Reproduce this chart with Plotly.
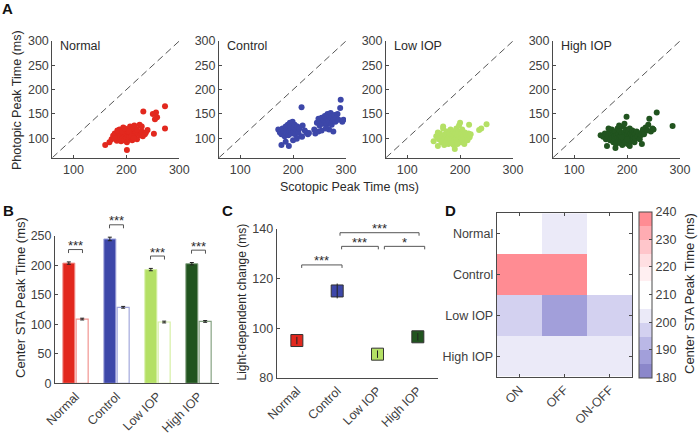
import plotly.graph_objects as go

W, H = 698, 434

# ---------------- data ----------------
groups = ["Normal", "Control", "Low IOP", "High IOP"]
group_colors = ["#e2281e", "#3d47a9", "#b4e065", "#21541f"]
open_edge = ["#f29490", "#a3a8dc", "#d6efa6", "#86a383"]

normal_scot = [160, 168, 172, 175, 178, 180, 182, 184, 185, 186, 187, 188, 189, 190, 191, 192, 193, 194, 195, 196,
               197, 198, 199, 200, 201, 202, 203, 204, 205, 206, 207, 208, 209, 210, 211, 212, 213, 215, 216, 218,
               220, 222, 225, 227, 229, 231, 233, 235, 237, 229, 201, 232, 250, 256, 273, 258, 254, 273, 252, 240,
               183, 192, 197, 205, 210, 178, 214, 220]
normal_phot = [86, 92, 98, 105, 110, 100, 95, 112, 104, 98, 118, 108, 102, 94, 112, 106, 100, 122, 110, 96,
               104, 115, 108, 100, 92, 118, 106, 112, 98, 104, 124, 110, 102, 116, 96, 108, 120, 126, 104, 112,
               98, 110, 128, 106, 114, 104, 110, 108, 112, 124, 76, 155, 150, 153, 166, 143, 139, 120, 109, 117,
               116, 114, 120, 114, 104, 100, 100, 118]

control_scot = [172, 175, 178, 180, 182, 184, 186, 188, 189, 190, 191, 192, 193, 194, 195, 196, 197, 198, 199, 200,
                201, 202, 203, 204, 206, 208, 210, 212, 215, 218, 222, 225, 228, 216, 178, 186, 192, 200, 207, 217,
                230, 242, 248, 254, 240, 245, 248, 250, 252, 254, 256, 258, 260, 262, 263, 264, 265, 266, 268, 269,
                270, 271, 272, 273, 274, 275, 276, 277, 278, 280, 282, 284, 286, 289, 290, 293, 295, 268, 262]
control_phot = [118, 112, 108, 120, 115, 104, 124, 118, 110, 128, 106, 120, 114, 132, 124, 118, 110, 126, 134, 120,
                114, 122, 128, 108, 118, 124, 112, 120, 104, 126, 116, 112, 108, 164, 86, 93, 84, 96, 99, 103,
                111, 110, 114, 116, 118, 132, 140, 126, 136, 142, 130, 138, 146, 134, 128, 140, 150, 136, 144, 132,
                138, 152, 142, 128, 146, 136, 114, 140, 148, 134, 142, 150, 138, 162, 179, 134, 138, 118, 120]

lowiop_scot = [150, 155, 158, 160, 162, 165, 166, 168, 170, 171, 172, 174, 175, 176, 178, 179, 180, 181, 182, 183,
               184, 185, 186, 187, 188, 189, 190, 190, 191, 192, 193, 194, 195, 196, 197, 198, 199, 200, 201, 202,
               203, 204, 205, 206, 208, 209, 210, 212, 214, 216, 218, 220, 217, 236, 240, 250, 158, 168, 185, 195]
lowiop_phot = [94, 104, 84, 98, 110, 92, 104, 120, 86, 100, 108, 94, 114, 98, 88, 104, 110, 96, 118, 92,
               102, 108, 98, 114, 86, 104, 78, 96, 110, 100, 120, 92, 106, 114, 98, 126, 104, 132, 92, 110,
               100, 118, 96, 106, 88, 112, 100, 106, 96, 110, 102, 108, 128, 117, 120, 129, 112, 124, 90, 88]

highiop_scot = [150, 155, 158, 160, 162, 164, 166, 168, 170, 171, 172, 174, 175, 176, 177, 178, 179, 180, 181, 182,
                183, 184, 185, 186, 187, 188, 189, 190, 191, 192, 193, 194, 195, 196, 197, 198, 199, 199, 200, 201,
                202, 203, 204, 205, 206, 207, 208, 209, 210, 211, 212, 213, 214, 215, 216, 218, 220, 222, 224, 226,
                228, 228, 230, 232, 235, 238, 240, 242, 245, 248, 250, 256, 286, 165, 185, 195, 178, 205, 190, 200]
highiop_phot = [106, 103, 110, 98, 84, 104, 112, 96, 106, 118, 100, 92, 110, 104, 98, 114, 88, 106, 100, 120,
                94, 108, 102, 116, 90, 104, 98, 110, 86, 124, 102, 96, 112, 106, 92, 118, 144, 100, 108, 88,
                114, 96, 104, 120, 100, 110, 94, 106, 116, 98, 104, 112, 92, 108, 100, 114, 104, 110, 98, 106,
                112, 88, 118, 108, 122, 116, 128, 140, 114, 120, 118, 153, 125, 120, 126, 130, 80, 84, 102, 98]

scatter_x = [normal_scot, control_scot, lowiop_scot, highiop_scot]
scatter_y = [normal_phot, control_phot, lowiop_phot, highiop_phot]

scotopic_mean = [204, 245, 193, 203]
scotopic_err = [2.0, 3.0, 2.0, 2.0]
photopic_mean = [109, 129, 104, 105]
photopic_err = [1.5, 1.5, 1.5, 1.5]

change_mean = [95.0, 115.0, 89.5, 96.5]
change_err = [1.5, 3.0, 1.5, 1.5]
c_sig_x0 = [0.12, 1.11, 2.17, 1.07]
c_sig_x1 = [1.12, 2.02, 3.17, 3.03]
c_sig_y = [125.5, 133.0, 133.0, 138.5]
c_sig_txt = ["***", "***", "*", "***"]

cell_types = ["ON", "OFF", "ON-OFF"]
heat_z = [[210, 203, 211],
          [244, 242, 212],
          [197, 189, 197],
          [202, 202, 202]]
band_colors = ["#8b87ca", "#a29fda", "#bab8e6", "#d3d1f0", "#ebeaf8", "#ffffff",
               "#ffffff", "#ffeff1", "#ffdfe2", "#ffc6cb", "#ffacb2", "#ff8c93"]

# ---------------- style ----------------
FONT = "Liberation Sans, Arial, sans-serif"
TXT = "#2a2a2a"
TICK = "#404040"
LINE = "#4a4a4a"
FS = 12.5


def xf(p):
    return p / W


def yf(p):
    return 1 - p / H


def paper_text(text, px, py, size, angle=0, color=TXT):
    return dict(text=text, xref="paper", yref="paper", x=xf(px), y=yf(py), xanchor="center",
                yanchor="middle", textangle=angle, showarrow=False, font=dict(size=size, color=color))


fig = go.Figure()
layout = dict(width=W, height=H, margin=dict(l=0, r=0, t=0, b=0, pad=0, autoexpand=False),
              paper_bgcolor="white", plot_bgcolor="white", showlegend=False,
              font=dict(family=FONT, size=FS, color=TICK))
annotations = []
shapes = []

axis_common = dict(showline=True, linecolor=LINE, linewidth=1, showgrid=False, zeroline=False,
                   ticks="inside", ticklen=3, tickcolor=LINE, tickfont=dict(size=FS, color=TICK),
                   automargin=False)

# ---------------- Panel A ----------------
a_left = [52.3, 219.0, 386.0, 553.0]
a_width = 127.0
a_ydom = [yf(157.7), yf(41.0)]
for i in range(4):
    sx = "" if i == 0 else str(i + 1)
    layout["xaxis" + sx] = dict(axis_common, domain=[xf(a_left[i]), xf(a_left[i] + a_width)],
                                anchor="y" + sx, range=[60, 300], tickvals=[100, 200, 300])
    layout["yaxis" + sx] = dict(axis_common, domain=a_ydom, anchor="x" + sx, range=[60, 300],
                                tickvals=[100, 150, 200, 250, 300])
    fig.add_trace(go.Scatter(x=[60, 300], y=[60, 300], mode="lines",
                             line=dict(color="#555555", width=1, dash="7px,4px"),
                             xaxis="x" + sx, yaxis="y" + sx, hoverinfo="skip"))
    fig.add_trace(go.Scatter(x=scatter_x[i], y=scatter_y[i], mode="markers",
                             marker=dict(color=group_colors[i], size=6, line=dict(width=0)),
                             xaxis="x" + sx, yaxis="y" + sx))
    annotations.append(dict(text=groups[i], xref="x" + sx + " domain", yref="y" + sx + " domain",
                            x=0.045, y=0.96, xanchor="left", yanchor="middle", showarrow=False,
                            font=dict(size=FS, color=TXT)))

annotations.append(paper_text("Scotopic Peak Time (ms)", 349, 187, FS))
annotations.append(paper_text("Photopic Peak Time (ms)", 17, 100, FS, -90))

# ---------------- Panel B ----------------
b_rng = [0, 250]
layout["xaxis5"] = dict(axis_common, domain=[xf(55), xf(219)], anchor="y5", type="category",
                        range=[-0.5, 3.5], tickangle=-45, ticks="")
layout["yaxis5"] = dict(axis_common, domain=[yf(383.3), yf(236)], anchor="x5", range=b_rng,
                        tickvals=[0, 50, 100, 150, 200, 250])
fig.add_trace(go.Bar(x=groups, y=scotopic_mean, xaxis="x5", yaxis="y5",
                     marker=dict(color=group_colors, line=dict(color=open_edge, width=1)),
                     error_y=dict(type="data", array=scotopic_err, color="#222222", thickness=1, width=2)))
fig.add_trace(go.Bar(x=groups, y=photopic_mean, xaxis="x5", yaxis="y5",
                     marker=dict(color="white", line=dict(color=open_edge, width=1.2)),
                     error_y=dict(type="data", array=photopic_err, color="#222222", thickness=1, width=2)))
layout["barmode"] = "group"
layout["bargap"] = 0.35
layout["bargroupgap"] = 0.1

leg_b = 3.5 / 147.0
for i in range(4):
    yv = (scotopic_mean[i] + scotopic_err[i] + 21 - b_rng[0]) / (b_rng[1] - b_rng[0])
    x0 = (i + 0.5) / 4 - 0.17 / 4
    x1 = (i + 0.5) / 4 + 0.17 / 4
    for (ax0, ay0, ax1, ay1) in [(x0, yv - leg_b, x0, yv), (x0, yv, x1, yv), (x1, yv, x1, yv - leg_b)]:
        shapes.append(dict(type="line", xref="x5 domain", yref="y5 domain", x0=ax0, y0=ay0, x1=ax1, y1=ay1,
                           line=dict(color="#555555", width=1)))
    annotations.append(dict(text="***", xref="x5 domain", yref="y5 domain", x=(x0 + x1) / 2, y=yv,
                            xanchor="center", yanchor="middle", yshift=4, showarrow=False,
                            font=dict(size=13, color=TXT)))

annotations.append(paper_text("Center STA Peak Time (ms)", 20, 298, 13, -90))

# ---------------- Panel C ----------------
c_rng = [80, 140]
layout["xaxis6"] = dict(axis_common, domain=[xf(276.7), xf(438)], anchor="y6", type="category",
                        range=[-0.5, 3.5], tickangle=-45, ticks="")
layout["yaxis6"] = dict(axis_common, domain=[yf(377.7), yf(229)], anchor="x6", range=c_rng,
                        tickvals=[80, 100, 120, 140])
fig.add_trace(go.Scatter(x=groups, y=change_mean, xaxis="x6", yaxis="y6", mode="markers",
                         marker=dict(symbol="square", size=12, color=group_colors,
                                     line=dict(color="#333333", width=1))))
fig.add_trace(go.Scatter(x=groups, y=change_mean, xaxis="x6", yaxis="y6", mode="markers",
                         marker=dict(size=1, opacity=0),
                         error_y=dict(type="data", array=change_err, color="#222222", thickness=1, width=0)))

leg_c = 3.0 / 148.7
for k in range(4):
    yv = (c_sig_y[k] - c_rng[0]) / (c_rng[1] - c_rng[0])
    x0 = (c_sig_x0[k] + 0.5) / 4
    x1 = (c_sig_x1[k] + 0.5) / 4
    for (ax0, ay0, ax1, ay1) in [(x0, yv - leg_c, x0, yv), (x0, yv, x1, yv), (x1, yv, x1, yv - leg_c)]:
        shapes.append(dict(type="line", xref="x6 domain", yref="y6 domain", x0=ax0, y0=ay0, x1=ax1, y1=ay1,
                           line=dict(color="#555555", width=1)))
    annotations.append(dict(text=c_sig_txt[k], xref="x6 domain", yref="y6 domain", x=(x0 + x1) / 2, y=yv,
                            xanchor="center", yanchor="middle", yshift=4, showarrow=False,
                            font=dict(size=13, color=TXT)))

annotations.append(paper_text("Light-dependent change (ms)", 241.5, 302, 12, -90))

# ---------------- Panel D ----------------
nb = len(band_colors)
cscale = []
for i, c in enumerate(band_colors):
    cscale.append([i / nb, c])
    cscale.append([(i + 1) / nb, c])

layout["xaxis7"] = dict(axis_common, domain=[xf(496.7), xf(632.3)], anchor="y7", mirror="ticks",
                        tickangle=-45)
layout["yaxis7"] = dict(axis_common, domain=[yf(376.7), yf(213.3)], anchor="x7", mirror="ticks",
                        autorange="reversed")
fig.add_trace(go.Heatmap(x=cell_types, y=groups, z=heat_z, xaxis="x7", yaxis="y7",
                         zmin=180, zmax=240, colorscale=cscale,
                         colorbar=dict(x=xf(639.3), xanchor="left", xpad=0, ypad=0,
                                       y=yf(294.5), yanchor="middle", len=165.6 / H, lenmode="fraction",
                                       thickness=13, thicknessmode="pixels", outlinewidth=1,
                                       outlinecolor=LINE, tickvals=[180, 190, 200, 210, 220, 230, 240],
                                       ticks="inside", ticklen=3, tickcolor=LINE,
                                       tickfont=dict(size=FS, color=TICK))))
annotations.append(paper_text("Center STA Peak Time (ms)", 689, 294, 13, -90))

# ---------------- panel letters ----------------
for lab, px, py in [("A", 7, 8), ("B", 8, 211), ("C", 227, 211), ("D", 450, 211)]:
    annotations.append(paper_text("<b>" + lab + "</b>", px, py, 15, 0, "#111111"))

layout["annotations"] = annotations
layout["shapes"] = shapes
fig.update_layout(**layout)
fig.write_html("out.html", config={"displayModeBar": False},
               post_script="document.body.style.margin='0px';")
